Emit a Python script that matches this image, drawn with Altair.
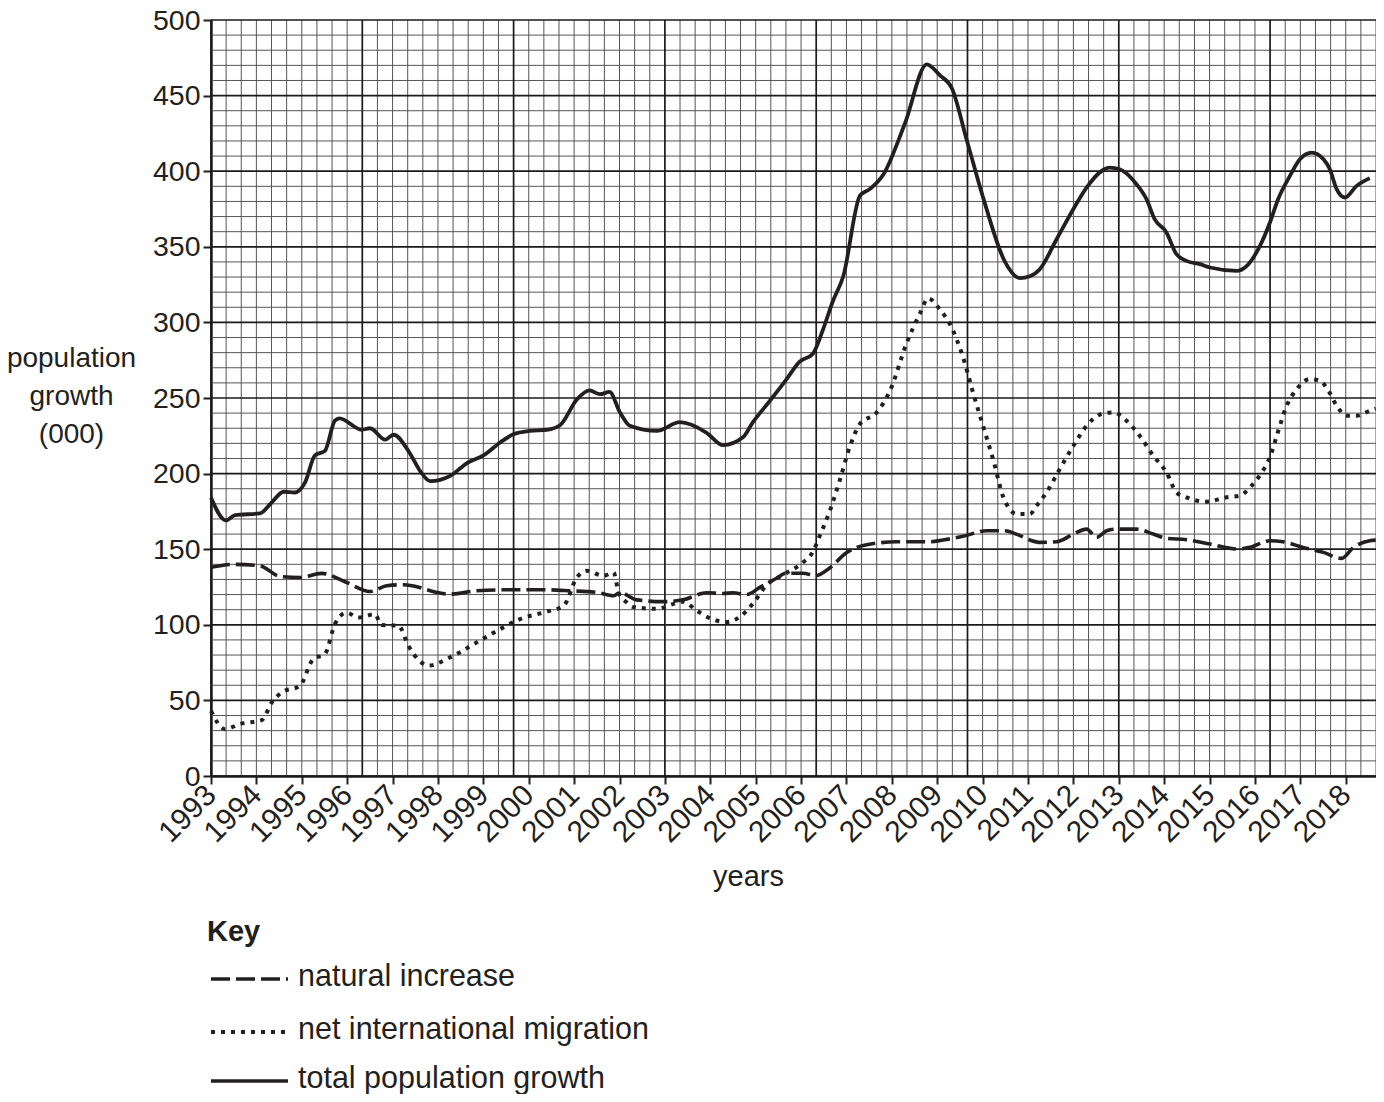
import altair as alt
import pandas as pd

# ---- data -------------------------------------------------------------
years_total = [1993.0, 1993.33, 1993.53, 1994.08, 1994.34, 1994.6, 1994.85, 1995.07, 1995.29, 1995.51,
               1995.73, 1995.83, 1996.32, 1996.5, 1996.84, 1997.02, 1997.39, 1997.6, 1997.83, 1998.27,
               1998.64, 1999.0, 1999.37, 1999.66, 2000.03, 2000.4, 2000.69, 2001.06, 2001.34, 2001.57,
               2001.78, 2002.01, 2002.23, 2002.82, 2003.33, 2003.92, 2004.28, 2004.72, 2004.94, 2005.31,
               2005.67, 2005.97, 2006.26, 2006.48, 2006.7, 2006.93, 2007.3, 2007.52, 2007.81, 2008.29,
               2008.77, 2009.06, 2009.32, 2009.65, 2010.02, 2010.49, 2010.82, 2011.04, 2011.26, 2011.63,
               2012.0, 2012.29, 2012.8, 2013.02, 2013.39, 2013.61, 2013.79, 2014.05, 2014.27, 2014.49,
               2014.79, 2015.01, 2015.6, 2015.82, 2016.11, 2016.33, 2016.51, 2016.77, 2016.99, 2017.25,
               2017.51, 2017.65, 2017.8, 2017.98, 2018.24, 2018.53]
values_total = [184, 169, 172.5, 173.7, 181, 188, 187.5, 194, 212, 215,
                235, 236.5, 229, 230, 222.5, 225.7, 213, 202, 195, 198.5,
                207, 212, 220.6, 226, 228.3, 229, 232, 249, 255, 252.5,
                254, 240.5, 231.6, 228.2, 234, 227, 218.8, 224, 234, 248,
                262, 274, 279.3, 295, 314, 330.5, 384, 388.3, 397.6, 431.7,
                470.7, 463.4, 455, 420.7, 381.7, 340.2, 329.3, 330.5, 335.2, 355,
                375, 389.2, 402.4, 401.3, 391.4, 381.5, 368.3, 359.5, 345.1, 340.7,
                338.5, 336.3, 334.1, 337.4, 350.6, 366.1, 381.5, 396.9, 407.9, 412.3,
                407.9, 401.3, 388.1, 382.6, 390.3, 395.4]

years_mig = [1993.0, 1993.31, 1993.64, 1994.12, 1994.34, 1994.56, 1994.96, 1995.25, 1995.51, 1995.73,
             1995.99, 1996.25, 1996.61, 1996.76, 1997.13, 1997.35, 1997.6, 1997.79, 1998.27, 1998.86,
             1999.44, 1999.81, 2000.33, 2000.77, 2001.06, 2001.28, 2001.65, 2001.87, 2001.98, 2002.16,
             2002.3, 2002.82, 2003.4, 2003.7, 2004.06, 2004.36, 2004.68, 2004.94, 2005.23, 2005.67,
             2006.04, 2006.26, 2006.41, 2006.63, 2006.86, 2007.08, 2007.3, 2007.66, 2007.96, 2008.33,
             2008.62, 2008.8, 2009.06, 2009.28, 2009.57, 2009.8, 2010.02, 2010.24, 2010.46, 2010.76,
             2011.04, 2011.19, 2011.41, 2011.7, 2012.0, 2012.29, 2012.62, 2012.88, 2013.17, 2013.46,
             2013.76, 2014.05, 2014.27, 2014.49, 2014.93, 2015.37, 2015.67, 2015.89, 2016.15, 2016.33,
             2016.48, 2016.7, 2016.92, 2017.21, 2017.43, 2017.62, 2017.8, 2018.02, 2018.24, 2018.53,
             2018.66]
values_mig = [43, 31, 34.4, 37, 48.7, 55.3, 59.7, 77.3, 80.7, 100.5,
              108, 104.8, 107, 99.8, 99.4, 86, 76, 73, 78.5, 88.4,
              98.3, 103.8, 108.2, 112.6, 131.3, 135.7, 132.4, 134.6, 121.4, 114.8,
              111.8, 110.6, 115.3, 109.4, 103.5, 101.9, 105.9, 114.1, 125.9, 134.1,
              141.2, 148.2, 158.8, 175, 196.3, 218.3, 233, 240.2, 254.9, 286.6,
              306, 315.9, 308.5, 298.8, 276.8, 252.4, 230.5, 208.5, 184.1, 173.2,
              173.2, 178.8, 187.6, 203, 218.4, 231.6, 239.4, 240.5, 235, 225,
              211.8, 200.8, 187.6, 184.3, 181.4, 184.3, 185.4, 190.9, 200.8, 210.7,
              225, 244.9, 255.9, 262.5, 261.4, 254.8, 244.9, 238.3, 238.3, 241.6,
              243]

years_nat = [1993.0, 1993.5, 1994.08, 1994.52, 1994.96, 1995.44, 1995.99, 1996.5, 1996.87, 1997.24,
             1997.6, 1997.83, 1998.27, 1998.86, 1999.59, 2000.33, 2000.91, 2001.5, 2001.87, 2002.01,
             2002.38, 2002.96, 2003.4, 2003.92, 2004.28, 2004.5, 2004.8, 2005.09, 2005.45, 2005.67,
             2006.04, 2006.33, 2006.63, 2007.0, 2007.37, 2008.1, 2008.84, 2009.13, 2009.57, 2010.09,
             2010.46, 2010.76, 2011.04, 2011.26, 2011.63, 2012.0, 2012.29, 2012.51, 2012.73, 2012.95,
             2013.39, 2013.76, 2014.05, 2014.49, 2015.01, 2015.6, 2015.89, 2016.33, 2016.62, 2017.06,
             2017.51, 2017.91, 2018.17, 2018.53, 2018.66]
values_nat = [138, 140, 139, 132, 131.3, 134, 128, 122, 125.8, 126.5,
              124.7, 122.5, 120.3, 122.5, 123.2, 123.2, 122.5, 121.4, 119.2, 121.4,
              116.5, 115.3, 116.5, 121.2, 120.7, 121.2, 120, 124.7, 130.6, 134.1,
              134.1, 132.5, 137.6, 147.6, 152.4, 154.9, 154.9, 156.1, 158.5, 162.2,
              162.2, 159.8, 156.1, 154.5, 154.9, 160, 163.3, 157.8, 162.2, 163.3,
              163.3, 160, 157.2, 156.3, 153.4, 150.1, 151.2, 155.6, 154.9, 151.2,
              147.9, 143.9, 151.2, 155.6, 156]

tick_years = list(range(1993, 2019))
tick_values = list(range(0, 501, 50))
series_labels = ["natural increase", "net international migration", "total population growth"]
y_title = ["population", "growth", "(000)"]
x_title = "years"
key_title = "Key"

# ---- styling ------------------------------------------------------------
INK = "#231f20"
FONT = "Liberation Sans"
X_MIN, X_MAX = 1993, 1993 + 77 / 3
W, H = 1165, 756

x_scale = alt.Scale(domain=[X_MIN, X_MAX], nice=False, zero=False)
y_scale = alt.Scale(domain=[0, 500], nice=False, zero=True)

x_axis = alt.Axis(values=tick_years, format="d", labelAngle=-45, labelAlign="right",
                  labelBaseline="middle", labelFontSize=30, labelFont=FONT, labelColor=INK,
                  labelPadding=6, labelFlush=False, labelOverlap=False, labelBound=False,
                  tickSize=8, tickWidth=2, tickColor=INK, domainColor=INK, domainWidth=2.5,
                  grid=False, title=x_title, titleFont=FONT, titleFontSize=29,
                  titleFontWeight="normal", titleColor=INK, titleX=537, titleY=100,
                  titleAlign="center", titleBaseline="middle", titleAngle=0)
y_axis = alt.Axis(values=tick_values, labelFontSize=28.5, labelFont=FONT, labelColor=INK,
                  labelPadding=3, labelFlush=False, labelOverlap=False,
                  tickSize=8, tickWidth=2, tickColor=INK, domainColor=INK, domainWidth=2.5,
                  grid=False, title=y_title, titleFont=FONT, titleFontSize=28,
                  titleFontWeight="normal", titleColor=INK, titleAngle=0, titleX=-140,
                  titleY=338, titleAlign="center", titleBaseline="middle", titleLineHeight=38)

X = alt.X("year:Q", scale=x_scale, axis=x_axis)
Y = alt.Y("value:Q", scale=y_scale, axis=y_axis)

# ---- graph-paper grid ---------------------------------------------------
vk = list(range(0, 78))
vgrid = pd.DataFrame({"year": [X_MIN + k / 3 for k in vk], "major": [k % 10 == 0 for k in vk]})
hv = list(range(0, 501, 10))
hgrid = pd.DataFrame({"value": hv, "major": [v % 50 == 0 for v in hv]})

MINOR = "#555555"
MAJOR = "#1a1a1a"
v_minor = alt.Chart(vgrid[~vgrid.major]).mark_rule(color=MINOR, strokeWidth=1).encode(x=X)
h_minor = alt.Chart(hgrid[~hgrid.major]).mark_rule(color=MINOR, strokeWidth=1).encode(y=Y)
v_major = alt.Chart(vgrid[vgrid.major]).mark_rule(color=MAJOR, strokeWidth=1.7).encode(x=X)
h_major = alt.Chart(hgrid[hgrid.major]).mark_rule(color=MAJOR, strokeWidth=1.7).encode(y=Y)

# ---- series -------------------------------------------------------------
df_nat = pd.DataFrame({"year": years_nat, "value": values_nat})
df_mig = pd.DataFrame({"year": years_mig, "value": values_mig})
df_tot = pd.DataFrame({"year": years_total, "value": values_total})

DASH_NAT = [19, 6]
DASH_MIG = [4, 6]

line_nat = alt.Chart(df_nat).mark_line(color=INK, strokeWidth=3.6, strokeDash=DASH_NAT,
                                       interpolate="monotone").encode(x=X, y=Y)
line_mig = alt.Chart(df_mig).mark_line(color=INK, strokeWidth=4, strokeDash=DASH_MIG,
                                       interpolate="monotone").encode(x=X, y=Y)
line_tot = alt.Chart(df_tot).mark_line(color=INK, strokeWidth=3.8,
                                       interpolate="monotone").encode(x=X, y=Y)

# ---- key ----------------------------------------------------------------
one = pd.DataFrame({"k": [0]})
key_title_mark = alt.Chart(one).mark_text(align="left", baseline="middle", font=FONT, fontSize=29,
                                          fontWeight="bold", color=INK).encode(
    x=alt.value(-4), y=alt.value(912), text=alt.value(key_title))

key_layers = [key_title_mark]
dashes = [DASH_NAT, DASH_MIG, None]
widths = [3.6, 4, 3.6]
row_y = [959, 1012, 1061]
for lab, dsh, wd, yy in zip(series_labels, dashes, widths, row_y):
    kw = dict(color=INK, strokeWidth=wd)
    if dsh is not None:
        kw["strokeDash"] = dsh
    key_layers.append(alt.Chart(one).mark_rule(**kw).encode(
        x=alt.value(0), x2=alt.value(77), y=alt.value(yy)))
    key_layers.append(alt.Chart(one).mark_text(align="left", baseline="middle", font=FONT,
                                               fontSize=30.5, color=INK).encode(
        x=alt.value(87), y=alt.value(yy - 2), text=alt.value(lab)))

chart = alt.layer(v_minor, h_minor, v_major, h_major, line_nat, line_mig, line_tot,
                  *key_layers).properties(
    width=W, height=H,
    autosize=alt.AutoSizeParams(type="none"),
    padding={"left": 203, "top": 12, "right": 0, "bottom": 318},
    background="white",
).configure_view(stroke=None)

chart.save("out.html", embed_options={"renderer": "svg", "actions": False})
